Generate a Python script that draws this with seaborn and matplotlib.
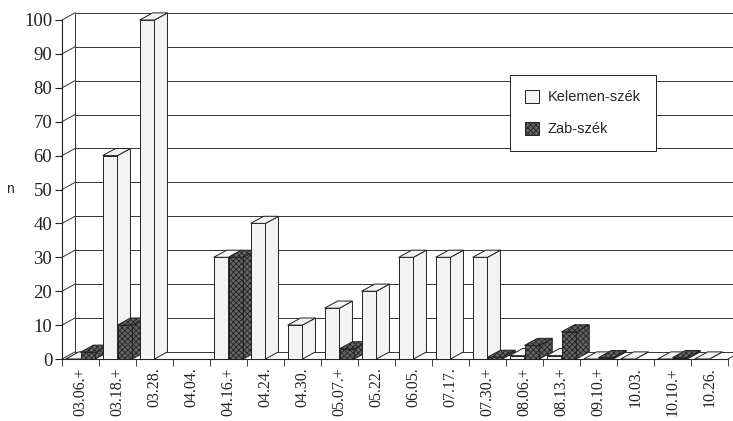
import numpy as np
import pandas as pd
import matplotlib.pyplot as plt
import seaborn as sns
from matplotlib.patches import Polygon, Patch

# adatok; NaN = nincs oszlop
dates = ['03.06.+', '03.18.+', '03.28.', '04.04.', '04.16.+', '04.24.', '04.30.',
         '05.07.+', '05.22.', '06.05.', '07.17.', '07.30.+', '08.06.+', '08.13.+',
         '09.10.+', '10.03.', '10.10.+', '10.26.']
kelemen = [0, 60, 100, np.nan, 30, 40, 10, 15, 20, 30, 30, 30, 1, 1, 0, 0, 0, 0]
zab = [2, 10, np.nan, np.nan, 30, np.nan, np.nan, 3, np.nan, np.nan, np.nan, 0.5,
       4, 8, 0.4, np.nan, 0.4, np.nan]
series = ['Kelemen-szék', 'Zab-szék']

data = pd.DataFrame({
    'datum': dates * 2,
    'n': kelemen + zab,
    'szek': [series[0]] * len(dates) + [series[1]] * len(dates),
})

sns.set_style("white")
plt.rcParams['font.family'] = ['Liberation Serif', 'DejaVu Serif']
plt.rcParams['hatch.linewidth'] = 0.6

fig = plt.figure(figsize=(7.33, 4.21), dpi=100)
ax = fig.add_axes([62 / 733, 1 - 359 / 421, 666 / 733, 339 / 421])

styles = {
    series[0]: dict(face='#f3f3f3', hatch=None),
    series[1]: dict(face='#666666', hatch='xxxxxx'),
}

sns.barplot(data=data, x='datum', y='n', hue='szek', order=dates, hue_order=series,
            width=0.8, ax=ax, legend=False, saturation=1,
            palette={s: styles[s]['face'] for s in series})

dx, dy = 0.35, 2.1  # mélység a 3D hatáshoz

for j, (cont, s) in enumerate(zip(ax.containers, series)):
    st = styles[s]
    for bar in cont:
        x0 = bar.get_x()
        x1 = x0 + bar.get_width()
        h = bar.get_height()
        if not np.isfinite(h):
            bar.set_visible(False)
            continue
        i = int(round(x0 + bar.get_width() / 2 + (0.2 if j == 0 else -0.2)))
        z = 10 + i * 4 + j * 2
        bar.set_edgecolor('#222222')
        bar.set_linewidth(0.7)
        bar.set_zorder(z)
        if st['hatch']:
            bar.set_hatch(st['hatch'])
        side = Polygon([(x1, 0), (x1 + dx, dy), (x1 + dx, h + dy), (x1, h)],
                       closed=True, facecolor=st['face'],
                       edgecolor='#222222', linewidth=0.7, hatch=st['hatch'],
                       zorder=z + 1, clip_on=False)
        top = Polygon([(x0, h), (x1, h), (x1 + dx, h + dy), (x0 + dx, h + dy)],
                      closed=True, facecolor=st['face'],
                      edgecolor='#222222', linewidth=0.7, hatch=st['hatch'],
                      zorder=z + 1, clip_on=False)
        ax.add_patch(side)
        ax.add_patch(top)

# háttérfal rácsvonalakkal
xl, xr = -0.5, len(dates) - 0.5
for v in range(0, 101, 10):
    ax.plot([xl + dx, xr + dx], [v + dy, v + dy], color='#333333', lw=0.7,
            zorder=1, clip_on=False)
    ax.plot([xl, xl + dx], [v, v + dy], color='#333333', lw=0.7,
            zorder=1, clip_on=False)
ax.plot([xl + dx, xl + dx], [dy, 100 + dy], color='#333333', lw=0.7, zorder=1, clip_on=False)
ax.plot([xr, xr + dx], [0, dy], color='#333333', lw=0.7, zorder=1, clip_on=False)

ax.set_xlim(xl, xr)
ax.set_ylim(0, 100)
ax.set_yticks(range(0, 101, 10))
for sp in ['top', 'right']:
    ax.spines[sp].set_visible(False)
for sp in ['left', 'bottom']:
    ax.spines[sp].set_color('#222222')
    ax.spines[sp].set_linewidth(0.8)

ax.set_xticks(range(len(dates)))
ax.set_xticklabels(dates, rotation=90)
ax.set_xticks([k - 0.5 for k in range(len(dates) + 1)], minor=True)
ax.tick_params(axis='x', which='major', length=0, pad=6, labelsize=11.5, colors='#222222')
ax.tick_params(axis='x', which='minor', length=5, direction='out', bottom=True, color='#222222')
ax.tick_params(axis='y', length=5, direction='out', left=True, labelsize=13.5,
               colors='#222222', pad=2)
ax.set_xlabel('')
ax.set_ylabel('n', rotation=0, fontsize=10, family=['Liberation Sans', 'DejaVu Sans'],
              labelpad=10, va='center')

handles = [Patch(facecolor=styles[s]['face'], edgecolor='#222222', hatch=styles[s]['hatch'],
                 linewidth=0.7) for s in series]
leg = fig.legend(handles, series, loc='upper left',
                 bbox_to_anchor=(510 / 733, 1 - 75 / 421),
                 prop={'family': ['Liberation Sans', 'DejaVu Sans'], 'size': 10.5},
                 fancybox=False, edgecolor='#222222', framealpha=1,
                 handlelength=1.0, handleheight=1.0, labelspacing=1.2,
                 borderpad=1.0, handletextpad=0.6, borderaxespad=0)
leg.get_frame().set_linewidth(0.7)
leg.set_zorder(200)

fig.savefig('out.png', dpi=100)
